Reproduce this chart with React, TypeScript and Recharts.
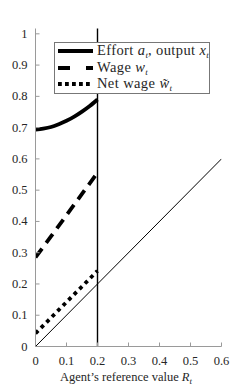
import React from 'react';
import { LineChart, Line, XAxis, YAxis, ReferenceLine } from 'recharts';

// reference value R_t on the x axis
const effortX = [0, 0.025, 0.05, 0.075, 0.1, 0.125, 0.15, 0.175, 0.2];
const effortY = [0.694, 0.697, 0.702, 0.711, 0.722, 0.735, 0.751, 0.769, 0.79];
const wageX = [0, 0.05, 0.1, 0.15, 0.2];
const wageY = [0.285, 0.352, 0.42, 0.488, 0.556];
const netX = [0, 0.05, 0.1, 0.15, 0.2];
const netY = [0.042, 0.092, 0.142, 0.192, 0.242];
const diagX = [0, 0.6];
const diagY = [0, 0.6];
const xTicks = [0, 0.1, 0.2, 0.3, 0.4, 0.5, 0.6];
const yTicks = [0, 0.1, 0.2, 0.3, 0.4, 0.5, 0.6, 0.7, 0.8, 0.9, 1];
const cutoff = 0.2;

const toRows = (xs: number[], ys: number[]) => xs.map((x, i) => ({ x, y: ys[i] }));

const FONT = '"Liberation Serif", serif';
const BOX = '#9a9a9a';
const TXT = '#262626';

const fmt = (v: number) => (v === 0 || v === 1 ? String(v) : v.toFixed(1));

const BottomTick = ({ x, y, payload }: any) => (
  <g>
    <line x1={x} y1={y} x2={x} y2={y - 4} stroke={BOX} />
    <text x={x} y={y + 18} textAnchor="middle" fontSize={12.5} fontFamily={FONT} fill={TXT}>
      {fmt(payload.value)}
    </text>
  </g>
);
const TopTick = ({ x, y }: any) => <line x1={x} y1={y} x2={x} y2={y + 4} stroke={BOX} />;
const LeftTick = ({ x, y, payload }: any) => (
  <g>
    <line x1={x} y1={y} x2={x + 4} y2={y} stroke={BOX} />
    <text x={x - 8} y={y + 4} textAnchor="end" fontSize={12.5} fontFamily={FONT} fill={TXT}>
      {fmt(payload.value)}
    </text>
  </g>
);
const RightTick = ({ x, y }: any) => <line x1={x} y1={y} x2={x - 4} y2={y} stroke={BOX} />;

const Sub = ({ children }: { children: React.ReactNode }) => (
  <span style={{ fontSize: 9, position: 'relative', top: 3, fontStyle: 'italic', letterSpacing: 0 }}>{children}</span>
);

const LegendRow = ({ dash, children }: { dash?: string; children: React.ReactNode }) => (
  <div style={{ display: 'flex', alignItems: 'center', height: 16.5 }}>
    <svg width={40} height={16} style={{ flex: 'none' }}>
      <line x1={3} y1={8} x2={38} y2={8} stroke="#000" strokeWidth={3.8} strokeDasharray={dash} />
    </svg>
    <span style={{ marginLeft: 2, whiteSpace: 'nowrap' }}>{children}</span>
  </div>
);

export default function App() {
  return (
    <div style={{ position: 'relative', width: 248, height: 390, background: '#fff', fontFamily: FONT, color: TXT }}>
      <style>{`body{margin:0}`}</style>
      <LineChart width={248} height={390} margin={{ top: 28.5, right: 26.5, left: 0, bottom: 23.5 }}>
        <XAxis dataKey="x" type="number" domain={[0, 0.6]} ticks={xTicks} height={20}
          stroke={BOX} tickLine={false} tickSize={0} tickMargin={0} tick={<BottomTick />} allowDataOverflow />
        <XAxis xAxisId="top" orientation="top" type="number" domain={[0, 0.6]} ticks={xTicks} height={0}
          stroke={BOX} tickLine={false} tickSize={0} tickMargin={0} tick={<TopTick />} allowDataOverflow />
        <YAxis type="number" domain={[0, 1.017]} ticks={yTicks} width={35.5}
          stroke={BOX} tickLine={false} tickSize={0} tickMargin={0} tick={<LeftTick />} allowDataOverflow />
        <YAxis yAxisId="right" orientation="right" type="number" domain={[0, 1.017]} ticks={yTicks} width={0}
          stroke={BOX} tickLine={false} tickSize={0} tickMargin={0} tick={<RightTick />} allowDataOverflow />
        <ReferenceLine x={cutoff} stroke="#000" strokeWidth={1.4} />
        <Line data={toRows(diagX, diagY)} dataKey="y" stroke="#000" strokeWidth={1} dot={false}
          isAnimationActive={false} />
        <Line data={toRows(effortX, effortY)} dataKey="y" type="monotone" stroke="#000" strokeWidth={3.8}
          dot={false} isAnimationActive={false} />
        <Line data={toRows(wageX, wageY)} dataKey="y" stroke="#000" strokeWidth={3.8} strokeDasharray="11 7"
          dot={false} isAnimationActive={false} />
        <Line data={toRows(netX, netY)} dataKey="y" stroke="#000" strokeWidth={3.8} strokeDasharray="3.8 4"
          dot={false} isAnimationActive={false} />
      </LineChart>

      <div style={{
        position: 'absolute', left: 54, top: 41.5, width: 154, height: 49, border: '1px solid #777',
        background: '#fff', fontSize: 14.5, letterSpacing: 0.4, padding: '0.5px 0', lineHeight: '16px',
      }}>
        <LegendRow>Effort <i>a</i><Sub>t</Sub>, output <i>x</i><Sub>t</Sub></LegendRow>
        <LegendRow dash="12 16">Wage <i>w</i><Sub>t</Sub></LegendRow>
        <LegendRow dash="3.8 3.2">Net wage <i>w&#771;</i><Sub>t</Sub></LegendRow>
      </div>

      <div style={{ position: 'absolute', left: 4, width: 244, top: 370, textAlign: 'center', fontSize: 12.5, whiteSpace: 'nowrap' }}>
        Agent’s reference value <i>R</i><Sub>t</Sub>
      </div>
    </div>
  );
}
